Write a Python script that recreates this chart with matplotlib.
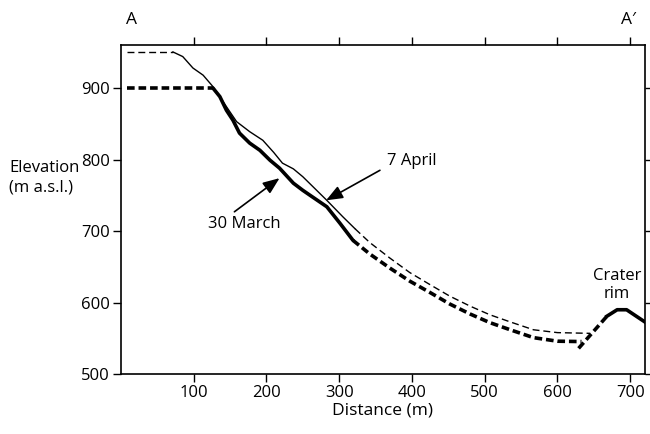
import matplotlib.pyplot as plt

plt.rcParams["font.family"] = ["Open Sans", "DejaVu Sans"]
plt.rcParams["lines.scale_dashes"] = False

# 7 April profile (thin line)
apr_top_dash_x = [8, 71.5]
apr_top_dash_y = [950.5, 950.5]
apr_solid_x = [71.5, 85, 99, 113, 126.5, 145, 159, 177, 195, 210, 222, 237, 250, 264, 283, 305, 322]
apr_solid_y = [950.5, 944, 928, 918, 902, 874, 853, 839, 827, 810, 795, 787, 776, 762, 743, 720, 703]
apr_dash_x = [322, 342, 370, 397, 425, 452, 480, 507, 535, 567, 600, 645]
apr_dash_y = [703, 684, 662, 642, 625, 609, 595, 583, 573, 562, 558, 557]

# 30 March profile (thick line)
mar_top_dash_x = [8, 126.5]
mar_top_dash_y = [900, 900]
mar_solid_x = [126.5, 136, 145, 154, 163, 177, 191, 205, 218, 237, 250, 260, 283, 301, 319]
mar_solid_y = [900, 888, 869, 855, 837, 823, 813, 799, 788, 767, 757, 750, 734, 711, 687]
mar_dash_x = [319, 342, 370, 397, 425, 452, 480, 507, 535, 567, 600, 633]
mar_dash_y = [687, 668, 648, 630, 614, 598, 584, 572, 562, 551, 546, 545.5]

# crater rim
rim_dash_x = [629, 668]
rim_dash_y = [536, 581]
rim_solid_x = [668, 682, 695, 720]
rim_solid_y = [581, 590, 590, 573]

x_ticks = [100, 200, 300, 400, 500, 600, 700]
y_ticks = [500, 600, 700, 800, 900]

fig = plt.figure(figsize=(6.5, 4.34), dpi=100)
ax = fig.add_axes([0.186, 0.138, 0.806, 0.758])

thin = dict(color="black", linewidth=1.0)
thick = dict(color="black", linewidth=2.6)
ax.plot(apr_top_dash_x, apr_top_dash_y, dashes=(5, 2.8), **thin)
ax.plot(apr_solid_x, apr_solid_y, **thin)
ax.plot(apr_dash_x, apr_dash_y, dashes=(5, 2.8), **thin)
ax.plot(mar_top_dash_x, mar_top_dash_y, dashes=(5.5, 2.8), **thick)
ax.plot(mar_solid_x, mar_solid_y, solid_capstyle="round", **thick)
ax.plot(mar_dash_x, mar_dash_y, dashes=(5.5, 2.8), **thick)
ax.plot(rim_dash_x, rim_dash_y, dashes=(5.5, 2.8), **thick)
ax.plot(rim_solid_x, rim_solid_y, **thick)

arrow = dict(arrowstyle="-|>,head_length=1.0,head_width=0.4", color="black",
             linewidth=1.2, shrinkA=0, shrinkB=0)
ax.annotate("", xy=(282, 743), xytext=(356, 785), arrowprops=arrow)
ax.annotate("", xy=(218, 774), xytext=(156, 727), arrowprops=arrow)
ax.text(400, 798, "7 April", ha="center", va="center", fontsize=12)
ax.text(170, 710, "30 March", ha="center", va="center", fontsize=12)
ax.text(682, 625, "Crater\nrim", ha="center", va="center", fontsize=12,
        linespacing=1.15)

ax.set_xlim(0, 720)
ax.set_ylim(500, 960)
ax.set_xticks(x_ticks)
ax.set_yticks(y_ticks)
ax.tick_params(axis="both", direction="out", length=6, width=1.0,
               labelsize=12, pad=2)
ax.tick_params(axis="x", top=True, labeltop=False)
ax.tick_params(axis="y", right=True, labelright=False)
for s in ax.spines.values():
    s.set_linewidth(1.2)

ax.set_xlabel("Distance (m)", fontsize=12.5, labelpad=1)
fig.text(0.014, 0.59, "Elevation\n(m a.s.l.)", ha="left", va="center",
         fontsize=12, linespacing=1.25)
fig.text(0.203, 0.955, "A", ha="center", va="center", fontsize=12.5)
fig.text(0.967, 0.955, "A\u2032", ha="center", va="center", fontsize=12.5)

fig.savefig("out.png", dpi=100)
